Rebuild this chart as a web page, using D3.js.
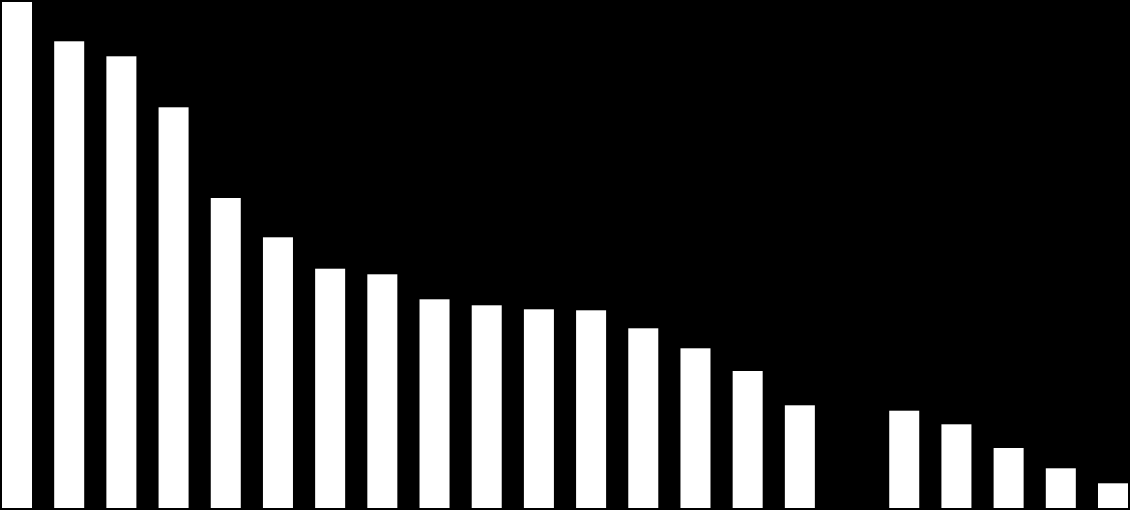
<!DOCTYPE html>
<html>
<head>
<meta charset="utf-8">
<script src="https://cdn.jsdelivr.net/npm/d3@7"></script>
<style>
  html, body { margin: 0; padding: 0; background: #000; overflow: hidden; }
  svg { display: block; }
</style>
</head>
<body>
<script>
const categories = ["1","2","3","4","5","6","7","8","9","10","11","12","13","14","15","16","17","18","19","20","21","22"];
const values = [506, 466.7, 451.7, 400.7, 310, 270.7, 239.3, 233.7, 208.7, 202.7, 198.7, 197.7, 179.7, 159.7, 137, 102.7, 0, 97.3, 83.7, 60, 39.7, 24.7];

const W = 1130, H = 510;
const svg = d3.select("body").append("svg").attr("width", W).attr("height", H);
svg.append("rect").attr("width", W).attr("height", H).attr("fill", "#000");

const x = d3.scaleBand().domain(categories).range([2, 1128]).paddingInner(0.425).paddingOuter(0);
const y = d3.scaleLinear().domain([0, 506]).range([508, 2]);

svg.selectAll("rect.bar")
  .data(categories.map((c, i) => ({c, v: values[i]})))
  .join("rect")
  .attr("class", "bar")
  .attr("x", d => x(d.c))
  .attr("width", x.bandwidth())
  .attr("y", d => y(d.v))
  .attr("height", d => y(0) - y(d.v))
  .attr("fill", "#fff");
</script>
</body>
</html>
